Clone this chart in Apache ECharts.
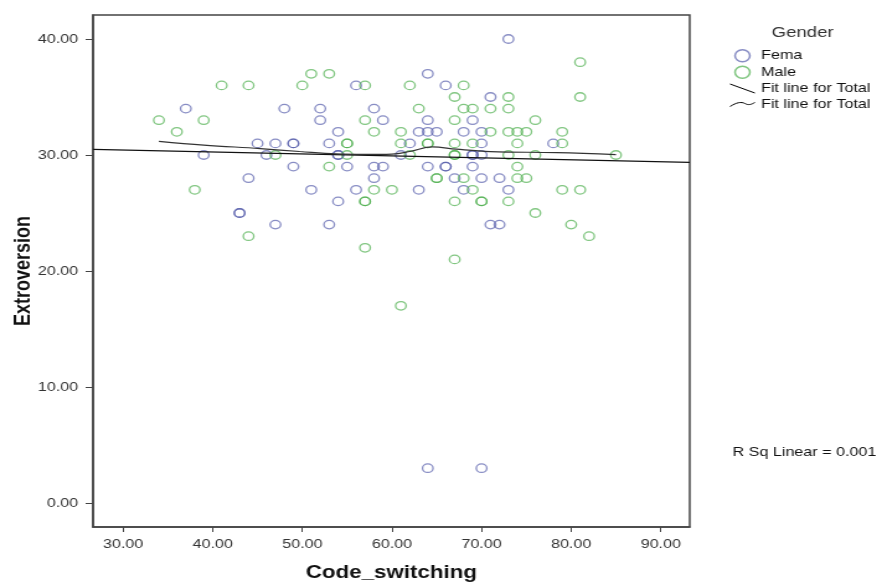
<!DOCTYPE html>
<html>
<head>
<meta charset="utf-8">
<script src="https://cdn.jsdelivr.net/npm/echarts@6/dist/echarts.min.js"></script>
<style>
  html, body { margin: 0; padding: 0; background: #fff; overflow: hidden; }
  /* the source picture is an SPSS chart stretched sideways, so draw narrow and stretch */
  #chart { width: 707px; height: 582px; transform: scaleX(1.2405); transform-origin: 0 0; }
</style>
</head>
<body>
<div id="chart"></div>
<script>
// points, [Code_switching, Extroversion]
const femalePoints = [
  [37, 34], [39, 30], [43, 25], [43, 25], [44, 28], [45, 31], [46, 30], [47, 31], [47, 24],
  [48, 34], [49, 31], [49, 31], [49, 29], [51, 27], [52, 34], [52, 33], [53, 31], [53, 24],
  [54, 32], [54, 30], [54, 30], [54, 26], [55, 29], [56, 36], [56, 27], [58, 34], [58, 29],
  [58, 28], [59, 33], [59, 29], [61, 30], [62, 31], [63, 32], [63, 27], [64, 37], [64, 33],
  [64, 32], [64, 29], [64, 3], [65, 32], [66, 36], [66, 29], [66, 29], [67, 28], [68, 32],
  [68, 27], [69, 33], [69, 30], [69, 30], [69, 29], [70, 32], [70, 31], [70, 30], [70, 28],
  [70, 3], [71, 35], [71, 24], [72, 28], [72, 24], [73, 40], [73, 27], [78, 31]
];

const malePoints = [
  [34, 33], [36, 32], [38, 27], [39, 33], [41, 36], [44, 36], [44, 23], [47, 30], [50, 36],
  [51, 37], [53, 37], [53, 29], [55, 31], [55, 31], [55, 30], [57, 36], [57, 33], [57, 26],
  [57, 26], [57, 22], [58, 32], [58, 27], [60, 27], [61, 32], [61, 31], [61, 17], [62, 36],
  [62, 30], [63, 34], [64, 31], [64, 31], [65, 28], [65, 28], [67, 35], [67, 33], [67, 31],
  [67, 30], [67, 30], [67, 26], [67, 21], [68, 36], [68, 34], [68, 28], [69, 34], [69, 31],
  [69, 27], [70, 26], [70, 26], [71, 34], [71, 32], [73, 35], [73, 34], [73, 32], [73, 30],
  [73, 26], [74, 32], [74, 31], [74, 29], [74, 28], [75, 32], [75, 28], [76, 33], [76, 30],
  [76, 25], [79, 32], [79, 31], [79, 27], [80, 24], [81, 38], [81, 35], [81, 27], [82, 23],
  [85, 30]
];

// linear fit, ends at the frame edges
const linearFit = [[26.65, 30.49], [93.23, 29.37]];

// second fit line (loess)
const loessFit = [
  [34, 31.18], [39, 30.86], [45.3, 30.55], [49.7, 30.3], [53.8, 30.09], [57, 30.05],
  [60, 30.08], [62, 30.3], [64.5, 30.7], [67.2, 30.5], [71, 30.3], [78.4, 30.2], [85, 30.03]
];

const xTicks = [30, 40, 50, 60, 70, 80, 90];
const yTicks = [0, 10, 20, 30, 40];

const blue = 'rgba(80, 88, 168, 0.85)';
const green = 'rgba(70, 172, 70, 0.85)';
const axisColor = '#444';
const textColor = '#333';
const font = '"Liberation Sans", Arial, sans-serif';

const chart = echarts.init(document.getElementById('chart'));

chart.setOption({
  animation: false,
  textStyle: { fontFamily: font },
  title: {
    text: 'Gender',
    left: 617,
    top: 20,
    textStyle: { fontSize: 15, fontWeight: 'normal', color: textColor, fontFamily: font }
  },
  legend: {
    orient: 'vertical',
    left: 588,
    top: 49,
    padding: 0,
    itemWidth: 20,
    itemHeight: 12,
    itemGap: 3,
    textStyle: { fontSize: 13, color: '#111', fontFamily: font },
    formatter: (name) => name.trim(),
    data: [
      { name: 'Fema', icon: 'circle', itemStyle: { color: 'transparent', borderColor: blue, borderWidth: 1.5 } },
      { name: 'Male', icon: 'circle', itemStyle: { color: 'transparent', borderColor: green, borderWidth: 1.5 } },
      { name: 'Fit line for Total', icon: 'path://M0,0 L20,9', itemStyle: { color: 'transparent', borderColor: '#000', borderWidth: 1 } },
      { name: 'Fit line for Total ', icon: 'path://M0,6 C5,2 9,1 12,3 C15,5 17,4 20,2', itemStyle: { color: 'transparent', borderColor: '#000', borderWidth: 1 } }
    ]
  },
  grid: {
    left: 75,
    right: 151,
    top: 15,
    bottom: 55,
    outerBoundsMode: 'none',
    show: true,
    borderColor: axisColor,
    borderWidth: 1.5
  },
  xAxis: {
    type: 'value',
    min: 26.65,
    max: 93.23,
    name: 'Code_switching',
    nameLocation: 'middle',
    nameGap: 37,
    nameTextStyle: { fontSize: 18, fontWeight: 'bold', color: '#111', fontFamily: font },
    axisLine: { show: true, onZero: false, lineStyle: { color: axisColor, width: 1.5 } },
    axisTick: { show: true, length: 5, customValues: xTicks, lineStyle: { color: axisColor } },
    axisLabel: {
      customValues: xTicks,
      margin: 11,
      fontSize: 13,
      color: textColor,
      formatter: (v) => v.toFixed(2)
    },
    splitLine: { show: false }
  },
  yAxis: {
    type: 'value',
    min: -2.07,
    max: 42.07,
    name: 'Extroversion',
    nameLocation: 'middle',
    nameRotate: 90,
    nameGap: 47,
    nameMoveOverlap: false,
    nameTextStyle: { fontSize: 18, fontWeight: 'bold', color: '#111', fontFamily: font },
    axisLine: { show: true, onZero: false, lineStyle: { color: axisColor, width: 1.5 } },
    axisTick: { show: true, length: 6, customValues: yTicks, lineStyle: { color: axisColor } },
    axisLabel: {
      customValues: yTicks,
      margin: 12,
      fontSize: 13,
      color: textColor,
      formatter: (v) => v.toFixed(2)
    },
    splitLine: { show: false }
  },
  graphic: [
    {
      type: 'text',
      left: 590.5,
      top: 446,
      style: { text: 'R Sq Linear = 0.001', fontSize: 13, fill: '#111', fontFamily: font }
    }
  ],
  series: [
    {
      name: 'Fema',
      type: 'scatter',
      data: femalePoints,
      symbol: 'circle',
      symbolSize: 8.5,
      itemStyle: { color: 'transparent', borderColor: blue, borderWidth: 1.3 },
      z: 3
    },
    {
      name: 'Male',
      type: 'scatter',
      data: malePoints,
      symbol: 'circle',
      symbolSize: 8.5,
      itemStyle: { color: 'transparent', borderColor: green, borderWidth: 1.3 },
      z: 3
    },
    {
      name: 'Fit line for Total',
      type: 'line',
      data: linearFit,
      showSymbol: false,
      lineStyle: { color: '#111', width: 1.2 },
      itemStyle: { color: '#111' },
      z: 4
    },
    {
      name: 'Fit line for Total ',
      type: 'line',
      data: loessFit,
      smooth: 0.4,
      showSymbol: false,
      lineStyle: { color: '#333', width: 1.2 },
      itemStyle: { color: '#333' },
      z: 4
    }
  ]
});

window.addEventListener('resize', () => chart.resize());
</script>
</body>
</html>
